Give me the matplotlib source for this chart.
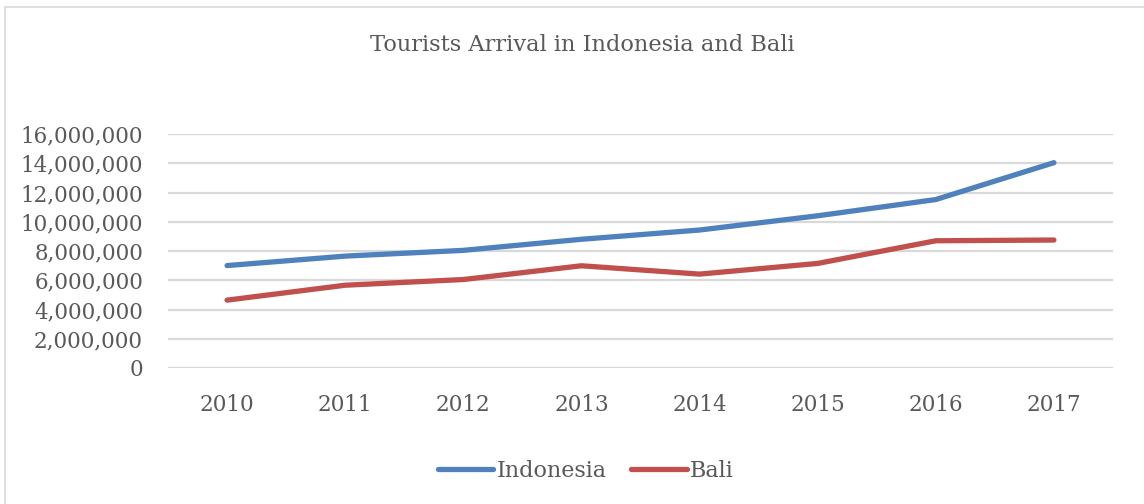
import matplotlib
matplotlib.use("Agg")
import matplotlib.pyplot as plt
from matplotlib.patches import Rectangle
from matplotlib.ticker import FuncFormatter

# data
years = ["2010", "2011", "2012", "2013", "2014", "2015", "2016", "2017"]
indonesia = [7003000, 7650000, 8044000, 8802000, 9435000, 10407000, 11519000, 14040000]
bali = [4640000, 5660000, 6050000, 6990000, 6420000, 7150000, 8700000, 8750000]

grey = "#595959"
plt.rcParams["font.family"] = ["DejaVu Serif"]

fig = plt.figure(figsize=(11.44, 5.04), dpi=100)
ax = fig.add_axes([168/1144, 136/504, 945/1144, 234/504])

x = list(range(len(years)))
ax.plot(x, indonesia, color="#4F81BD", lw=3.8, solid_capstyle="round",
        solid_joinstyle="round", label="Indonesia")
ax.plot(x, bali, color="#C0504D", lw=3.8, solid_capstyle="round",
        solid_joinstyle="round", label="Bali")

ax.set_xlim(-0.5, 7.5)
ax.set_ylim(0, 16000000)
ax.set_yticks(range(0, 16000001, 2000000))
ax.yaxis.set_major_formatter(FuncFormatter(lambda v, p: f"{int(v):,}"))
ax.set_xticks(x)
ax.set_xticklabels(years)
ax.grid(axis="y", color="#D9D9D9", lw=1.6)
ax.set_axisbelow(True)
for s in ax.spines.values():
    s.set_visible(False)
ax.tick_params(length=0, labelsize=15.5, colors=grey)
ax.tick_params(axis="y", pad=18)
ax.tick_params(axis="x", pad=19)

fig.text(0.509, 0.911, "Tourists Arrival in Indonesia and Bali", ha="center",
         va="center", fontsize=16.2, color=grey)

leg = fig.legend(loc="center", bbox_to_anchor=(0.512, 0.065), ncol=2, frameon=False,
                 fontsize=16, handlelength=2.5, handletextpad=0.15, columnspacing=1.1)
for t in leg.get_texts():
    t.set_color(grey)

fig.patches.append(Rectangle((5/1144, -0.1), 1.2, 1 - 7/504 + 0.1, transform=fig.transFigure,
                             fill=False, edgecolor="#D9D9D9", lw=1.2))

fig.savefig("out.png", dpi=100)
